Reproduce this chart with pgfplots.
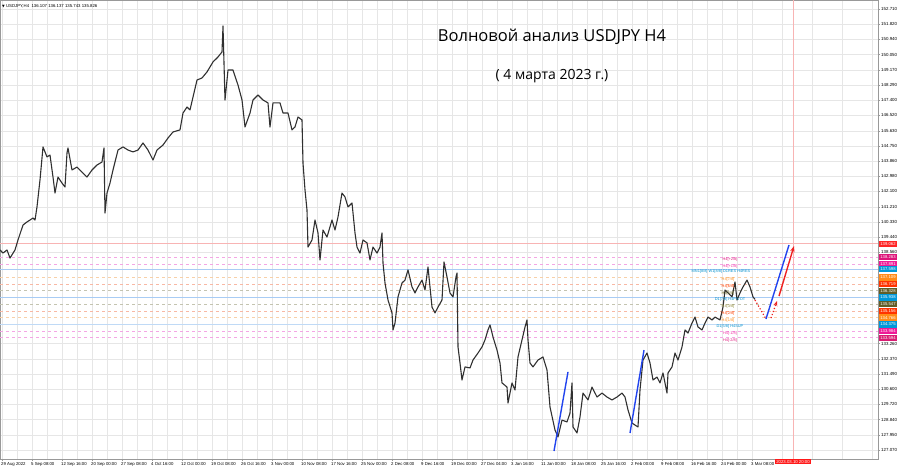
\documentclass[border=0pt]{standalone}
\usepackage{pgfplots}
\pgfplotsset{compat=1.18}
\usepackage{fontspec}
\setmainfont{Liberation Sans}
\newfontfamily\titlefont{Open Sans}
\newfontfamily\symfont{DejaVu Sans}
\usetikzlibrary{arrows.meta}
\definecolor{gridc}{HTML}{E6E6E6}
\definecolor{pricec}{HTML}{303030}
\definecolor{arrblue}{HTML}{2244EE}
\definecolor{arrred}{HTML}{EE2222}
\definecolor{lred}{HTML}{F8B4B4}
\definecolor{lpink}{HTML}{F4A6E4}
\definecolor{lblue}{HTML}{A8CCF4}
\definecolor{llblue}{HTML}{C0DAF6}
\definecolor{lorange}{HTML}{F8D0A8}
\definecolor{lorred}{HTML}{F8B8A4}
\definecolor{lolive}{HTML}{C4C4B0}
\newcommand{\smallf}{\fontsize{4.3}{5}\selectfont}
\newcommand{\yf}{\fontsize{4.4}{5}\selectfont}
\newcommand{\lvl}{\fontsize{3.9}{4.5}\selectfont}
\newcommand{\boxf}{\fontsize{4.2}{5}\selectfont}
\begin{document}
\begin{tikzpicture}
\begin{axis}[
  at={(0,0)}, anchor=south west,
  width=878pt, height=459pt, scale only axis,
  set layers,
  xmin=0, xmax=878, ymin=126.547, ymax=153.233,
  clip=false,
  axis line style={draw=gray!80, line width=0.6pt},
  xtick={2,32,...,752},
  xticklabels={29 Aug 2022,5 Sep 08:00,12 Sep 16:00,20 Sep 00:00,27 Sep 08:00,4 Oct 16:00,12 Oct 00:00,19 Oct 08:00,26 Oct 16:00,3 Nov 00:00,10 Nov 08:00,17 Nov 16:00,25 Nov 00:00,2 Dec 08:00,9 Dec 16:00,19 Dec 00:00,27 Dec 04:00,3 Jan 16:00,11 Jan 00:00,18 Jan 08:00,25 Jan 16:00,2 Feb 00:00,9 Feb 08:00,16 Feb 16:00,24 Feb 00:00,3 Mar 08:00},
  extra x ticks={782,812,842,872}, extra x tick labels={},
  extra x tick style={grid=major, major tick length=0pt},
  minor x tick num=1,
  ytick={152.710,151.820,150.940,150.050,149.170,148.290,147.400,146.520,145.630,144.750,143.860,142.980,142.100,141.210,140.330,139.440,138.560,133.260,132.370,131.490,130.600,129.720,128.840,127.950,127.070},
  ytick pos=right, yticklabel pos=right,
  xtick pos=bottom,
  tick align=outside, major tick length=2pt, minor tick length=0pt,
  tick style={gray!80, line width=0.5pt},
  grid=both,
  major grid style={gridc, line width=0.5pt},
  minor grid style={gridc, line width=0.5pt},
  /pgf/number format/.cd, fixed, fixed zerofill, precision=3, 1000 sep={}, assume math mode=true,
  /pgfplots/.cd,
  xticklabel style={anchor=north west, font=\smallf, inner sep=1pt, xshift=-2pt, yshift=-0.3pt},
  yticklabel style={anchor=west, font=\yf, inner sep=1pt, xshift=0pt},
]
% level lines
\addplot[no marks, draw=lred, line width=0.8pt] coordinates {(0,139.062) (878,139.062)};
\addplot[no marks, draw=lpink, dashed, line width=0.7pt] coordinates {(0,138.283) (878,138.283)};
\addplot[no marks, draw=lpink, dashed, line width=0.7pt] coordinates {(0,137.891) (878,137.891)};
\addplot[no marks, draw=lblue, line width=0.7pt] coordinates {(0,137.598) (878,137.598)};
\addplot[no marks, draw=lorange, dashed, line width=0.7pt] coordinates {(0,137.109) (878,137.109)};
\addplot[no marks, draw=lorred, dashed, line width=0.7pt] coordinates {(0,136.719) (878,136.719)};
\addplot[no marks, draw=lolive, dashed, line width=0.7pt] coordinates {(0,136.328) (878,136.328)};
\addplot[no marks, draw=lblue, line width=0.7pt] coordinates {(0,135.938) (878,135.938)};
\addplot[no marks, draw=lolive, dashed, line width=0.7pt] coordinates {(0,135.547) (878,135.547)};
\addplot[no marks, draw=lorred, dashed, line width=0.7pt] coordinates {(0,135.156) (878,135.156)};
\addplot[no marks, draw=lorange, dashed, line width=0.7pt] coordinates {(0,134.766) (878,134.766)};
\addplot[no marks, draw=llblue, line width=0.6pt] coordinates {(0,134.375) (878,134.375)};
\addplot[no marks, draw=lpink, dashed, line width=0.7pt] coordinates {(0,133.984) (878,133.984)};
\addplot[no marks, draw=lpink, dashed, line width=0.7pt] coordinates {(0,133.594) (878,133.594)};
% future vertical line
\addplot[no marks, draw=lred, line width=0.5pt] coordinates {(793,126.547) (793,153.233)};
% price
\addplot[no marks, draw=pricec, line width=1.1pt, line join=round] table {
x y
0 138.70
3 138.52
7 138.70
10 138.23
15 138.70
18 139.28
23 140.15
27 140.33
30 140.44
33 140.56
35 140.44
37 141.20
40 142.77
43 144.69
47 144.11
50 144.22
53 142.94
55 142.01
58 142.94
62 142.59
65 142.36
67 144.34
68 144.63
72 143.35
77 143.52
82 143.23
87 142.94
92 143.35
97 143.64
102 143.81
104 144.63
105 140.85
107 142.01
110 142.59
113 143.35
118 144.51
123 144.69
128 144.51
133 144.40
138 144.51
143 144.92
148 144.51
153 143.93
157 144.51
163 144.80
168 145.21
173 145.56
180 145.68
183 146.66
187 147.01
190 146.84
193 147.59
197 148.58
202 148.70
207 149.05
213 149.63
218 149.92
222 150.21
223 151.72
225 147.42
228 149.16
233 149.16
238 148.29
242 147.42
245 145.85
250 146.66
253 147.42
258 147.71
263 147.42
268 147.25
270 145.85
273 147.25
280 147.25
283 146.66
288 146.66
292 145.68
295 145.85
298 146.43
302 146.26
303 143.76
305 142.19
307 141.02
308 138.87
312 139.28
315 140.44
318 139.69
320 138.12
323 139.86
327 139.45
332 140.44
335 139.86
338 140.62
342 142.01
345 141.78
348 141.20
352 141.43
355 139.69
357 138.87
360 138.52
363 139.28
367 139.11
370 138.12
373 138.87
377 138.52
380 138.87
382 139.69
383 137.94
385 136.78
388 135.79
392 135.04
393 134.05
395 134.45
398 135.97
402 136.78
405 136.95
408 137.54
412 136.55
415 136.20
418 136.55
422 136.95
425 136.37
428 137.71
432 135.38
435 135.04
438 135.38
442 135.79
444 138.00
447 137.13
450 136.20
453 135.97
456 137.13
457 137.36
458 133.06
460 132.13
462 131.14
465 131.90
470 131.84
473 132.30
478 132.71
482 133.06
485 133.47
488 134.05
490 134.34
493 133.64
497 132.88
500 132.13
502 130.97
507 130.73
508 129.80
512 130.97
515 130.56
518 132.48
522 133.47
525 134.22
527 134.63
528 133.47
530 132.13
533 131.90
538 132.30
543 132.48
547 131.72
550 129.57
555 128.23
558 127.83
562 128.81
567 128.70
570 129.22
572 130.97
573 128.41
577 128.06
580 128.99
583 130.38
588 129.98
592 130.73
597 130.15
602 130.38
607 130.15
612 129.98
617 130.15
622 130.38
625 130.15
628 129.40
632 128.64
635 128.52
638 128.41
640 130.56
643 132.30
647 132.71
650 132.13
653 131.14
657 131.31
660 130.97
663 131.55
667 130.38
668 131.55
672 131.90
675 132.71
678 132.30
682 133.06
685 134.05
688 133.87
692 134.45
695 134.80
698 134.22
702 134.05
705 134.45
708 134.80
712 134.63
715 134.80
720 134.63
723 135.38
725 136.37
728 136.20
732 135.97
735 136.84
737 135.79
740 136.20
743 136.55
747 136.95
750 136.55
753 135.97
755 135.83
};
% arrows
\addplot[no marks, draw=arrblue, line width=1.4pt] coordinates {(554,127.01) (568,131.61)};
\addplot[no marks, draw=arrblue, line width=1.4pt] coordinates {(630,128.06) (644,132.88)};
\addplot[no marks, draw=arrred, line width=1.2pt, dotted] coordinates {(755,135.79) (766,134.69)};
\addplot[no marks, draw=arrred, line width=1.2pt, dotted, -{Stealth[length=5pt,width=4pt]}] coordinates {(771,134.74) (777,135.73)};
\addplot[no marks, draw=arrblue, line width=1.4pt] coordinates {(766,134.69) (789,138.99)};
\addplot[no marks, draw=arrred, line width=1.4pt, -{Stealth[length=6pt,width=4.5pt]}] coordinates {(779,136.02) (794,138.93)};
% level text labels
\begin{scope}[every node/.style={font=\lvl, inner sep=0.5pt, anchor=north}]
\node[text=magenta!70!purple] at (axis cs:730,138.283) {H4[+2/8]};
\node[text=magenta!80] at (axis cs:730,137.891) {H4[+1/8]};
\node[text=blue!30!cyan!80!black] at (axis cs:721,137.598) {MN1[8/8] W1[8/8] D1RES H4RES};
\node[text=orange!90] at (axis cs:728,137.109) {H4[7/8]};
\node[text=red!50!orange] at (axis cs:728,136.719) {H4[6/8]};
\node[text=olive!70!black] at (axis cs:728,136.328) {H4[5/8]};
\node[text=blue!30!cyan!80!black] at (axis cs:730,135.938) {D1[7/8] H4PIVOT};
\node[text=olive!60!gray] at (axis cs:728,135.547) {H4[3/8]};
\node[text=red!50!orange] at (axis cs:728,135.156) {H4[2/8]};
\node[text=orange!90] at (axis cs:728,134.766) {H4[1/8]};
\node[text=blue!30!cyan!80!black] at (axis cs:730,134.375) {D1[5/8] H4SUP};
\node[text=magenta!80] at (axis cs:730,133.984) {H4[-1/8]};
\node[text=magenta!70!purple] at (axis cs:730,133.594) {H4[-2/8]};
\end{scope}
% price boxes
\begin{scope}[every node/.style={font=\boxf, text=white, inner xsep=1.2pt, inner ysep=0.6pt, anchor=west, minimum height=6.4pt}]
\node[fill=red!85] at (axis cs:879,139.062) {139.062};
\node[fill=magenta!70!purple] at (axis cs:879,138.283) {138.283};
\node[fill=magenta!90] at (axis cs:879,137.891) {137.891};
\node[fill=blue!30!cyan!85!black] at (axis cs:879,137.598) {137.598};
\node[fill=orange!90] at (axis cs:879,137.109) {137.109};
\node[fill=red!60!orange] at (axis cs:879,136.719) {136.719};
\node[fill=olive!60!black] at (axis cs:879,136.328) {136.328};
\node[fill=blue!30!cyan!85!black] at (axis cs:879,135.938) {135.938};
\node[fill=olive!60!black] at (axis cs:879,135.547) {135.547};
\node[fill=red!60!orange] at (axis cs:879,135.156) {135.156};
\node[fill=orange!90] at (axis cs:879,134.766) {134.766};
\node[fill=blue!30!cyan!85!black] at (axis cs:879,134.375) {134.375};
\node[fill=magenta!90] at (axis cs:879,133.984) {133.984};
\node[fill=magenta!60!purple] at (axis cs:879,133.594) {133.594};
\end{scope}
% time box
\node[fill=red!90, text=white, font=\smallf, inner xsep=1.5pt, inner ysep=1pt, anchor=north] at (axis cs:793,126.547) {2023.03.10 20:00};
% header and title
\node[anchor=west, font=\smallf, inner sep=0pt] at (axis cs:2,152.88) {{\symfont\fontsize{3.5}{4}\selectfont ▼}\ USDJPY,H4\ \ 136.107 136.137 135.743 135.826};
\node[font=\titlefont\fontsize{16.5}{19}\selectfont] at (axis cs:552,151.08) {Волновой анализ USDJPY H4};
\node[font=\titlefont\fontsize{14}{16}\selectfont] at (axis cs:552,148.81) {( 4 марта 2023 г.)};
\end{axis}
\pgfresetboundingbox
\path[use as bounding box] (0,-9pt) rectangle (900pt,459pt);
\end{tikzpicture}
\end{document}
